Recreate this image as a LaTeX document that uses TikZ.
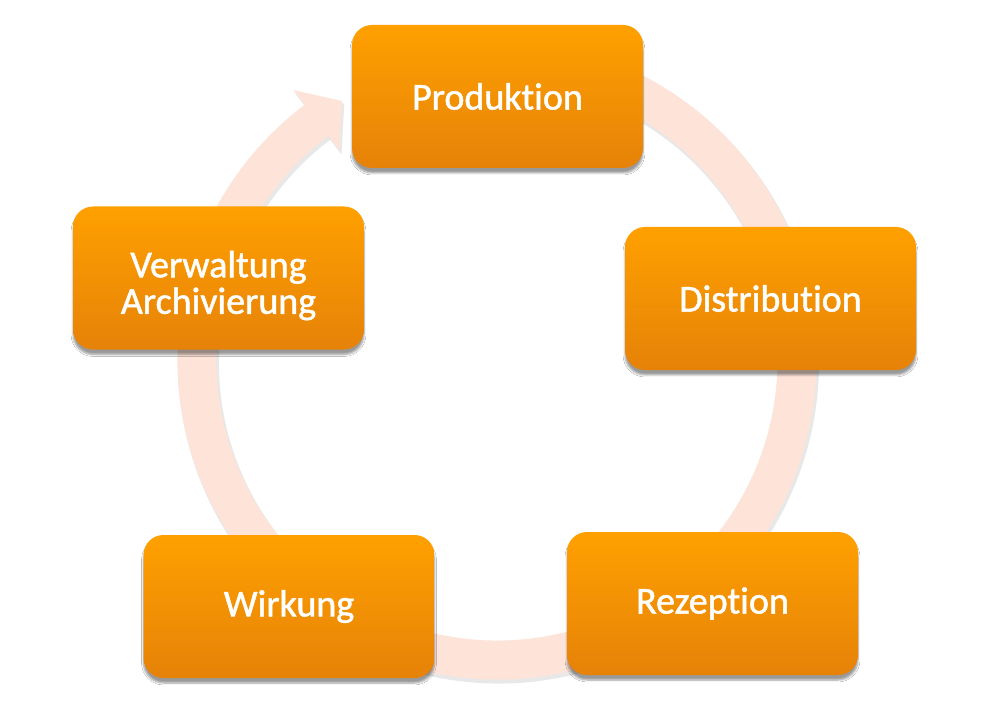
\documentclass[tikz,border=0pt]{standalone}
\usepackage{fontspec}
\setmainfont{Carlito}[Ligatures=NoCommon, FakeBold=1.3]
\usetikzlibrary{calc,shadows.blur}
\definecolor{ringc}{RGB}{253,227,216}
\definecolor{otop}{RGB}{255,160,0}
\definecolor{obot}{RGB}{230,130,8}
\tikzset{
  stagebox/.style={rounded corners=20pt, minimum width=291pt, minimum height=143pt,
    top color=otop, bottom color=obot, draw=none, text=white, align=center,
    font=\fontsize{38}{37}\selectfont,
    blur shadow={shadow xshift=0pt, shadow yshift=-5pt, shadow blur steps=6, shadow opacity=40}},
  ring/.style={line width=39pt, draw=ringc, line cap=butt},
  ringshadow/.style={line width=41pt, draw=black, opacity=0.09, line cap=butt}
}
\begin{document}
\begin{tikzpicture}[x=1pt,y=1pt]
\useasboundingbox (0,0) rectangle (992,721);
\fill[white] (0,0) rectangle (992,721);
\coordinate (O) at (497,361);
% ring shadow
\draw[ringshadow] ($(O)+(1.5,-3)+(80:300)$) arc[start angle=80, end angle=-233, radius=300];
\fill[black, opacity=0.09] ($(O)+(1.5,-3)+(127:261)$) -- ($(O)+(1.5,-3)+(127:339)$) -- ($(O)+(1.5,-3)+(127:300)+(37:33)$) -- cycle;
% ring
\draw[ring] ($(O)+(80:300)$) arc[start angle=80, end angle=-233, radius=300];
\fill[ringc] ($(O)+(127:262)$) -- ($(O)+(127:338)$) -- ($(O)+(127:300)+(37:32)$) -- cycle;
% boxes
\node[stagebox] (prod) at (497.5,624.5) {\raisebox{-2pt}{Produktion}};
\node[stagebox] (dist) at (770.5,422.5) {\raisebox{-2pt}{Distribution}};
\node[stagebox] (reze) at (712.5,117.5) {\raisebox{-2pt}{Rezeption}};
\node[stagebox] (wirk) at (289,114.5) {\raisebox{-2pt}{Wirkung}};
\node[stagebox, text depth=0pt] (verw) at (218.5,443) {\raisebox{11pt}{\begin{tabular}{@{}c@{}}Verwaltung\\[-1pt]Archivierung\end{tabular}}};
\end{tikzpicture}
\end{document}
